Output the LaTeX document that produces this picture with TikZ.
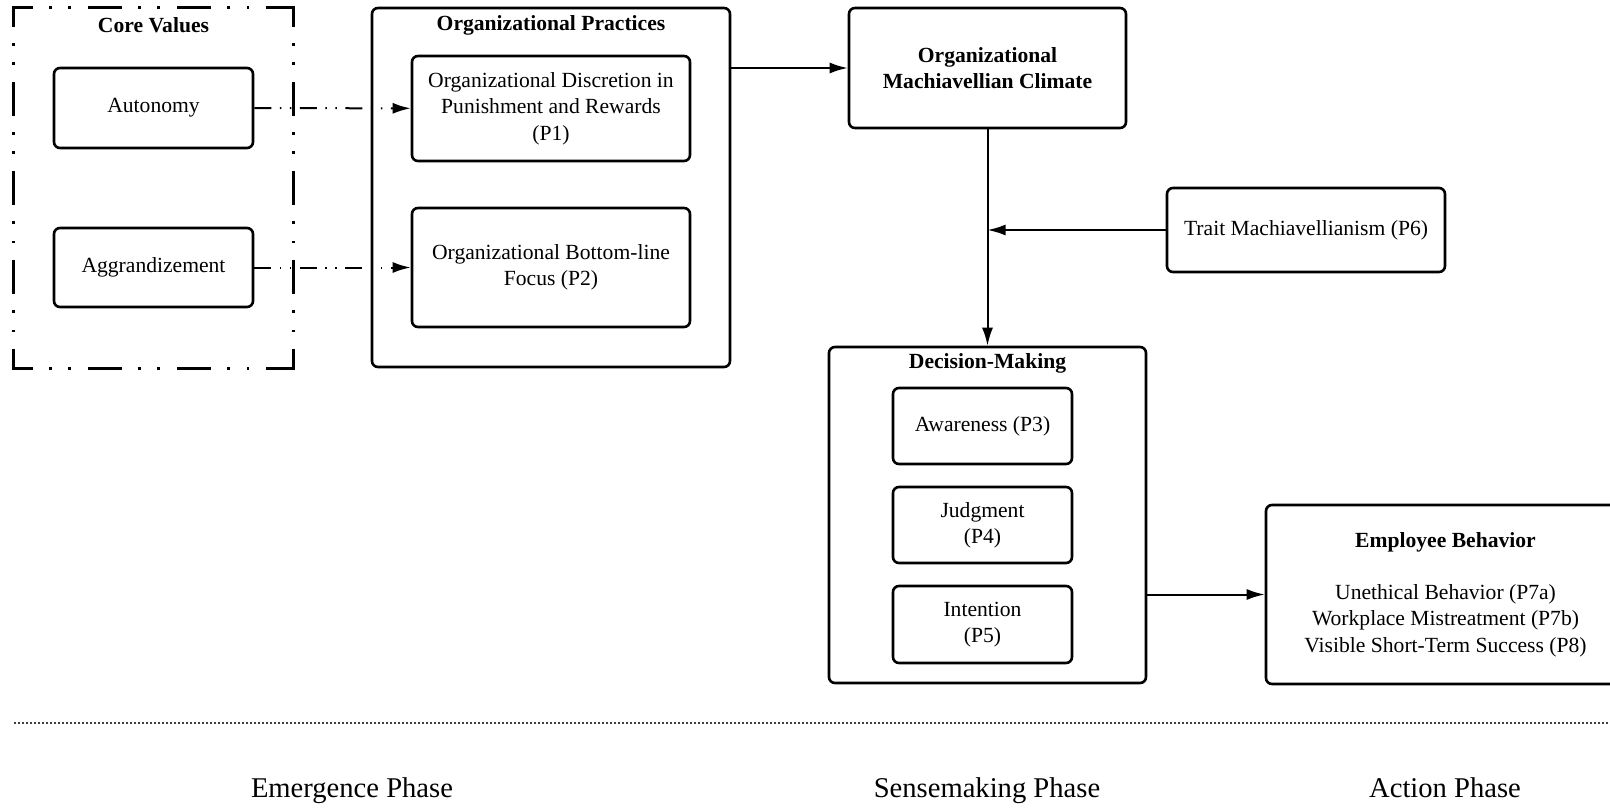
\documentclass[tikz,border=0pt]{standalone}
\usepackage{fontspec}
\setmainfont{Liberation Serif}
\usetikzlibrary{positioning, arrows.meta}
\tikzset{
	block/.style={draw, rectangle, rounded corners=3pt, line width=1.3pt, align=center, inner sep=2pt, font=\fontsize{10.8}{13.2}\selectfont},
	valuegroup/.style={rectangle, inner sep=0pt},
	% each side of the core values frame starts with a dash at its corner
	valueedge/.style={line width=1.3pt, line cap=rect, dash pattern=on 15.7pt off 9.6pt on 0.01pt off 9.6pt on 0.01pt off 9.6pt, dash phase=6.85pt},
	ttl/.style={font=\fontsize{10.8}{13.2}\selectfont\bfseries, inner sep=0pt},
	phase/.style={font=\fontsize{14.3}{17}\selectfont, anchor=base},
	% dotted rule above the phase names
	sep/.style={line width=0.6pt, dash pattern=on 1pt off 1pt, black!75},
	link/.style={dash pattern=on 8.5pt off 4.25pt on 0.75pt off 4.25pt on 0.75pt off 4.25pt},
}

\begin{document}
\begin{tikzpicture}[x=0.5pt, y=-0.5pt]
	\useasboundingbox (0,0) rectangle (1610,809);
	\clip (0,0) rectangle (1610,809);

	% emergence phase
	\node (core) [valuegroup, minimum width=139.5pt, minimum height=180pt] at (153.5,188) {};
	\draw[valueedge] (core.north west) -- (core.north east);
	\draw[valueedge] (core.south west) -- (core.south east);
	\draw[valueedge] (core.north west) -- (core.south west);
	\draw[valueedge] (core.north east) -- (core.south east);
	\node (coreT) [ttl] at (153.5,25) {Core Values};
	\node (aut) [block, minimum width=99.5pt, minimum height=40pt] at (153.5,108) {Autonomy};
	\node (agg) [block, minimum width=99.5pt, minimum height=39.5pt] at (153.5,267.5) {Aggrandizement};

	\node (prac) [block, minimum width=179pt, minimum height=179.5pt] at (551,187.5) {};
	\node (pracT) [ttl] at (551,25) {Organizational Practices};
	\node (p1) [block, minimum width=139pt, minimum height=52.5pt] at (551,108.5) {Organizational Discretion in\\ Punishment and Rewards\\ (P1)};
	\node (p2) [block, minimum width=139pt, minimum height=59.5pt] at (551,267.5) {Organizational Bottom-line\\ Focus (P2)};

	% sensemaking phase
	\node (clim) [block, minimum width=138.5pt, minimum height=60pt, font=\fontsize{10.8}{13.2}\selectfont\bfseries] at (987.5,68) {Organizational\\ Machiavellian Climate};
	\node (trait) [block, minimum width=139pt, minimum height=42pt] at (1306,230) {Trait Machiavellianism (P6)};

	\node (dec) [block, minimum width=158.5pt, minimum height=168pt] at (987.5,515) {};
	\node (decT) [ttl] at (987.5,363) {Decision-Making};
	\node (aw) [block, minimum width=89.5pt, minimum height=38pt] at (982.5,426) {Awareness (P3)};
	\node (jud) [block, minimum width=89.5pt, minimum height=38pt] at (982.5,525) {Judgment\\ (P4)};
	\node (int) [block, minimum width=89.5pt, minimum height=38.5pt] at (982.5,624.5) {Intention\\ (P5)};

	% action phase
	\node (emp) [block, minimum width=179.5pt, minimum height=89.5pt] at (1445.5,594.5) {\textbf{Employee Behavior}\\[13pt] Unethical Behavior (P7a)\\ Workplace Mistreatment (P7b)\\ Visible Short-Term Success (P8)};

	\begin{scope}[line width=1pt, black, ->, >={Latex[length=9pt,width=5.5pt]}]
		\draw[link] (aut) -- (p1);
		\draw[link] (agg) -- (p2);
		\draw (prac.east |- clim.west) -- (clim.west);
		\draw (clim) -- (dec);
		\draw (trait) -- (trait.west -| clim.south);
		\draw (dec.east |- emp.west) -- (emp.west);
	\end{scope}

	\coordinate (sepL) at (14,723);
	\coordinate (sepR) at (1610,723);
	\draw[sep] (sepL) -- (sepR);

	\node (emerg) [phase] at (352,797) {Emergence Phase};
	\node (sense) [phase] at (987,797) {Sensemaking Phase};
	\node (act) [phase] at (1445,797) {Action Phase};

\end{tikzpicture}
\end{document}
